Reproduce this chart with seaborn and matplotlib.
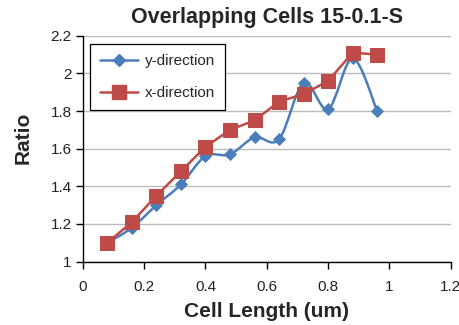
import numpy as np
import pandas as pd
import matplotlib
matplotlib.use("Agg")
import matplotlib.pyplot as plt
from matplotlib.path import Path
from matplotlib.patches import PathPatch
from matplotlib.lines import Line2D
import seaborn as sns

cell_length = [0.08, 0.16, 0.24, 0.32, 0.40, 0.48, 0.56, 0.64, 0.72, 0.80, 0.88, 0.96]
y_direction = [1.10, 1.18, 1.30, 1.41, 1.56, 1.57, 1.66, 1.65, 1.95, 1.81, 2.08, 1.80]
x_direction = [1.10, 1.21, 1.35, 1.48, 1.61, 1.70, 1.75, 1.85, 1.89, 1.96, 2.11, 2.10]
x_ticks = [0, 0.2, 0.4, 0.6, 0.8, 1, 1.2]
y_ticks = [1, 1.2, 1.4, 1.6, 1.8, 2, 2.2]
x_tick_labels = ["0", "0.2", "0.4", "0.6", "0.8", "1", "1.2"]
y_tick_labels = ["1", "1.2", "1.4", "1.6", "1.8", "2", "2.2"]

BLUE = "#4a7ebb"
RED = "#be4b48"

sns.set_style("white")
plt.rcParams["font.family"] = ["Liberation Sans", "DejaVu Sans"]

fig = plt.figure(figsize=(4.6, 3.25), dpi=100)
ax = fig.add_axes([0.18, 0.195, 0.80, 0.695])

df = pd.DataFrame({"len": cell_length, "y": y_direction, "x": x_direction})

# Smoothed (Excel-style Bezier) line for y-direction
pts = np.column_stack([cell_length, y_direction])
verts = [tuple(pts[0])]
codes = [Path.MOVETO]
n = len(pts)
for i in range(n - 1):
    p_prev = pts[i - 1] if i > 0 else pts[i]
    p0 = pts[i]
    p1 = pts[i + 1]
    p_next = pts[i + 2] if i + 2 < n else pts[i + 1]
    c1 = p0 + (p1 - p_prev) / 6.0
    c2 = p1 - (p_next - p0) / 6.0
    verts += [tuple(c1), tuple(c2), tuple(p1)]
    codes += [Path.CURVE4] * 3
ax.add_patch(PathPatch(Path(verts, codes), fill=False, edgecolor=BLUE, lw=1.8, zorder=3,
                       capstyle="round", joinstyle="round"))
sns.scatterplot(data=df, x="len", y="y", marker="D", s=45, color=BLUE,
                edgecolor=BLUE, linewidth=0, ax=ax, zorder=4)

sns.lineplot(data=df, x="len", y="x", color=RED, lw=1.8, marker="s", markersize=10,
             markeredgecolor=RED, markerfacecolor=RED, ax=ax, zorder=5)

ax.set_xlim(0, 1.2)
ax.set_ylim(1, 2.2)
ax.set_xticks(x_ticks)
ax.set_xticklabels(x_tick_labels)
ax.set_yticks(y_ticks)
ax.set_yticklabels(y_tick_labels)
ax.yaxis.grid(True, color="#bcbcbc", lw=1.0)
ax.xaxis.grid(False)
ax.set_axisbelow(True)
for s in ["top", "right"]:
    ax.spines[s].set_visible(False)
for s in ["left", "bottom"]:
    ax.spines[s].set_color("black")
    ax.spines[s].set_linewidth(1.0)
ax.tick_params(axis="both", which="major", direction="out", length=5, width=1,
               color="black", labelsize=11, labelcolor="#222222", bottom=True, left=True)
ax.tick_params(axis="x", pad=8)
ax.tick_params(axis="y", pad=3)

ax.set_title("Overlapping Cells 15-0.1-S", fontsize=15.5, fontweight="bold", pad=9)
ax.set_xlabel("Cell Length (um)", fontsize=15, fontweight="bold", labelpad=6)
ax.set_ylabel("Ratio", fontsize=15, fontweight="bold", labelpad=13, y=0.55)

handles = [
    Line2D([], [], color=BLUE, lw=1.8, marker="D", markersize=6.5, markerfacecolor=BLUE, markeredgecolor=BLUE),
    Line2D([], [], color=RED, lw=1.8, marker="s", markersize=10, markerfacecolor=RED, markeredgecolor=RED),
]
leg = ax.legend(handles, ["y-direction", "x-direction"], loc="upper left",
                bbox_to_anchor=(0.02, 0.963), borderaxespad=0, fontsize=11, frameon=True,
                fancybox=False, edgecolor="black", framealpha=1, handlelength=2.5,
                labelspacing=1.2, borderpad=0.65, handletextpad=0.45)
leg.get_frame().set_linewidth(0.9)

fig.savefig("out.png", dpi=100)
